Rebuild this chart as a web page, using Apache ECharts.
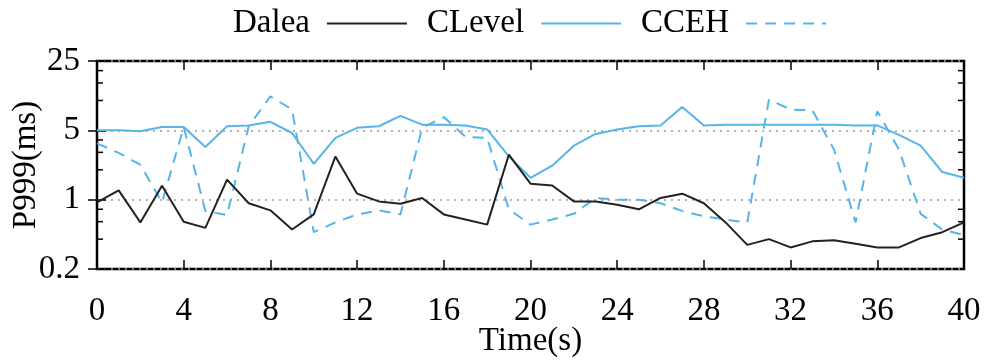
<!DOCTYPE html>
<html>
<head>
<meta charset="utf-8">
<script src="https://cdn.jsdelivr.net/npm/echarts@6/dist/echarts.min.js"></script>
<style>
  html, body { margin: 0; padding: 0; background: #fff; }
  #chart { width: 990px; height: 360px; }
</style>
</head>
<body>
<div id="chart"></div>
<script>
// P999 latency over time, three indexes, log-5 y axis

const times = [0,1,2,3,4,5,6,7,8,9,10,11,12,13,14,15,16,17,18,19,20,
  21,22,23,24,25,26,27,28,29,30,31,32,33,34,35,36,37,38,39,40];
const dalea = [0.94,1.24,0.59,1.38,0.60,0.52,1.59,0.92,0.78,0.50,0.71,2.73,1.15,0.96,0.91,1.04,0.71,0.63,0.56,2.84,1.45,
  1.39,0.96,0.96,0.89,0.80,1.04,1.15,0.92,0.59,0.35,0.40,0.33,0.38,0.39,0.36,0.33,0.33,0.41,0.47,0.59];
const clevel = [5.0,5.0,4.9,5.4,5.4,3.4,5.5,5.6,6.1,4.7,2.3,4.2,5.3,5.5,7.0,5.7,5.7,5.6,5.1,2.73,1.66,
  2.2,3.5,4.6,5.1,5.5,5.6,8.6,5.6,5.7,5.7,5.7,5.7,5.7,5.7,5.6,5.6,4.5,3.5,1.9,1.66];
const cceh = [3.7,2.96,2.25,0.94,5.4,0.77,0.70,5.5,11.0,8.1,0.47,0.59,0.71,0.78,0.71,5.3,6.8,4.3,4.2,0.8,0.56,
  0.63,0.72,1.04,1.0,1.0,0.92,0.77,0.68,0.63,0.59,10.2,8.1,8.0,3.2,0.59,7.8,3.2,0.72,0.50,0.44];
const yMinorTicks = [0.4,0.6,0.8,2,3,4,10,15,20];

const FONT = 'Liberation Serif';
const BLUE = '#56b4e9';

const pairs = (vals) => times.map((t, i) => [t, vals[i]]);

const chart = echarts.init(document.getElementById('chart'));

const xBase = {
  type: 'value', min: 0, max: 40, interval: 4,
  axisLine: { show: false },
  axisTick: { inside: true, length: 9, lineStyle: { color: '#000', width: 1.5 } },
  splitLine: { show: false }
};
const yBase = {
  type: 'log', logBase: 5, min: 0.2, max: 25, splitNumber: 3,
  axisLine: { show: false },
  axisTick: { inside: true, length: 9, lineStyle: { color: '#000', width: 1.5 } },
  minorTick: { show: false }
};

const option = {
  animation: false,
  textStyle: { fontFamily: FONT },
  legend: {
    top: 2,
    left: 228,
    align: 'right',
    itemWidth: 80,
    itemHeight: 14,
    itemGap: 19,
    itemStyle: { opacity: 0 },
    textStyle: { fontFamily: FONT, fontSize: 33, color: '#000', padding: [0, 12, 0, 0] },
    data: ['Dalea', 'CLevel', 'CCEH']
  },
  grid: {
    left: 97, right: 26, top: 61, bottom: 91,
    outerBoundsMode: 'none',
    show: true, borderColor: '#000', borderWidth: 2.5, backgroundColor: 'transparent'
  },
  xAxis: [
    Object.assign({}, xBase, {
      position: 'bottom',
      name: 'Time(s)', nameLocation: 'middle', nameGap: 56, nameMoveOverlap: false,
      nameTextStyle: { fontFamily: FONT, fontSize: 33, color: '#000' },
      axisLabel: { fontFamily: FONT, fontSize: 33, color: '#000', margin: 26 }
    }),
    Object.assign({}, xBase, { position: 'top', axisLabel: { show: false } })
  ],
  yAxis: [
    Object.assign({}, yBase, {
      position: 'left',
      name: 'P999(ms)', nameLocation: 'middle', nameGap: 54, nameRotate: 90, nameMoveOverlap: false,
      nameTextStyle: { fontFamily: FONT, fontSize: 33, color: '#000' },
      axisLabel: {
        fontFamily: FONT, fontSize: 33, color: '#000', margin: 17,
        formatter: (v) => String(Math.round(v * 10) / 10)
      },
      splitLine: { show: true, lineStyle: { color: '#999', width: 1.5, type: [2, 5] } }
    }),
    Object.assign({}, yBase, { position: 'right', axisLabel: { show: false }, splitLine: { show: false } })
  ],
  series: [
    {
      name: 'Dalea', type: 'line', data: pairs(dalea), symbol: 'none',
      lineStyle: { color: '#222', width: 2 }, itemStyle: { color: '#444' }, z: 3
    },
    {
      name: 'CLevel', type: 'line', data: pairs(clevel), symbol: 'none',
      lineStyle: { color: BLUE, width: 2 }, itemStyle: { color: BLUE }, z: 2
    },
    {
      name: 'CCEH', type: 'line', data: pairs(cceh), symbol: 'none',
      lineStyle: { color: BLUE, width: 2, type: [11, 8] }, itemStyle: { color: BLUE }, z: 2
    },
    {
      // gnuplot-style minor ticks on both y sides
      type: 'custom', silent: true, z: 4,
      data: yMinorTicks.map((v) => [0, v]),
      renderItem: (params, api) => {
        const v = api.value(1);
        const l = api.coord([0, v]);
        const r = api.coord([40, v]);
        const st = { stroke: '#000', lineWidth: 1.5 };
        return {
          type: 'group',
          children: [
            { type: 'line', shape: { x1: l[0], y1: l[1], x2: l[0] + 6, y2: l[1] }, style: st },
            { type: 'line', shape: { x1: r[0], y1: r[1], x2: r[0] - 6, y2: r[1] }, style: st }
          ]
        };
      }
    }
  ]
};

chart.setOption(option);
</script>
</body>
</html>
